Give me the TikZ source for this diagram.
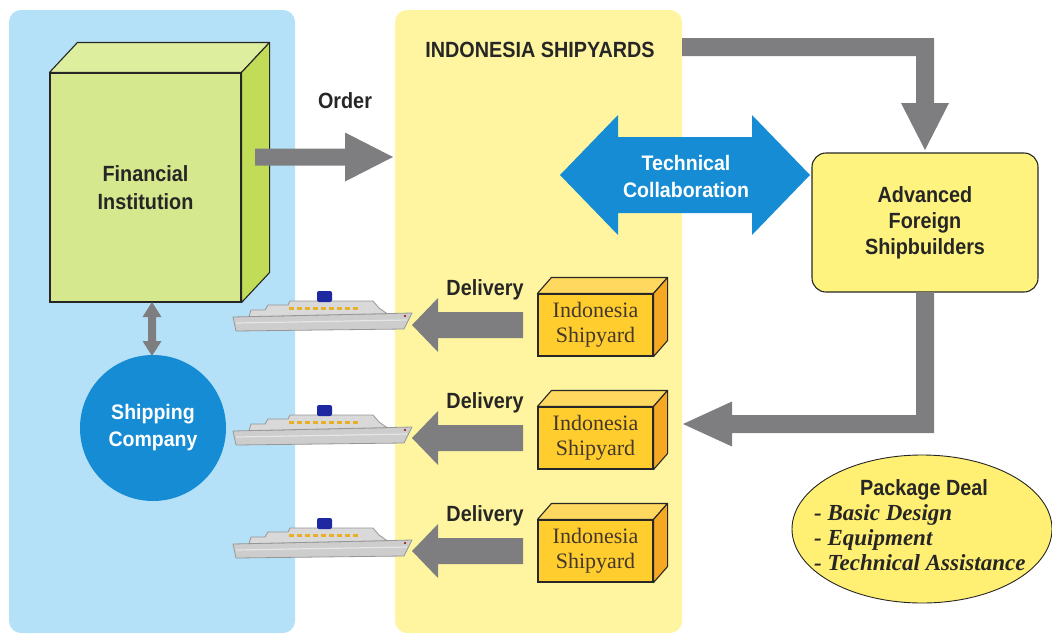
\documentclass[tikz,border=0pt]{standalone}
\usepackage{fontspec}
\setmainfont{Liberation Serif}
\newfontfamily\lblfont[FakeStretch=0.9]{Liberation Sans}
\newfontfamily\whitefont[FakeStretch=0.93]{Liberation Sans}
\usetikzlibrary{calc,shapes.geometric}

\definecolor{panelblue}{RGB}{181,225,248}
\definecolor{panelyellow}{RGB}{255,245,160}
\definecolor{arrowgray}{RGB}{126,126,128}
\definecolor{brandblue}{RGB}{22,140,212}
\definecolor{finfront}{RGB}{213,232,142}
\definecolor{fintop}{RGB}{221,238,158}
\definecolor{finside}{RGB}{193,221,88}
\definecolor{yardfront}{RGB}{255,205,45}
\definecolor{yardtop}{RGB}{255,216,95}
\definecolor{yardside}{RGB}{246,168,35}
\definecolor{advfill}{RGB}{255,243,128}
\definecolor{dealfill}{RGB}{255,239,115}
\definecolor{inkdark}{RGB}{38,38,38}
\definecolor{hullgray}{RGB}{205,205,205}
\definecolor{hullline}{RGB}{150,150,150}
\definecolor{funnelblue}{RGB}{30,40,160}
\definecolor{windowgold}{RGB}{232,176,40}

% horizontal block arrow: [style]{tail}{tip}{half shaft}{half head}{signed head length}
\newcommand\hblockarrow[6][]{%
  \fill[#1] ($(#2)+(0,-#4)$) -- ($(#3)+(#6,-#4)$) -- ($(#3)+(#6,-#5)$) -- (#3)
    -- ($(#3)+(#6,#5)$) -- ($(#3)+(#6,#4)$) -- ($(#2)+(0,#4)$) -- cycle;}

% a 3D box: front face node, depth dx/dy, top colour, side colour
\newcommand\boxdepth[5]{%
  \filldraw[fill=#4, draw=inkdark, line width=1.1, line join=round]
    (#1.north west) -- ++(#2,#3) -- ($(#1.north east)+(#2,#3)$) -- (#1.north east) -- cycle;
  \filldraw[fill=#5, draw=inkdark, line width=1.1, line join=round]
    (#1.north east) -- ++(#2,#3) -- ($(#1.south east)+(#2,#3)$) -- (#1.south east) -- cycle;}

\tikzset{
  panel/.style={rounded corners=12, inner sep=0},
  lbl/.style={font=\lblfont\bfseries\fontsize{22}{28}\selectfont, text=inkdark, inner sep=0},
  wlbl/.style={font=\whitefont\bfseries\fontsize{21}{27}\selectfont, text=white, inner sep=0, align=center},
  yardbox/.style={fill=yardfront, draw=inkdark, line width=1.1, minimum width=115, minimum height=62,
    inner sep=0, align=center, font=\fontsize{22}{25}\selectfont, text=inkdark!80!brown},
  deal/.style={font=\bfseries\itshape\fontsize{23}{25}\selectfont, text=inkdark, inner sep=0, anchor=base west},
  liner/.pic={
    \filldraw[fill=hullgray, draw=hullline, line width=0.8, line join=round]
      (0,4) -- (179,0) -- (171,16) -- (3,18) -- cycle;
    \draw[white!80!gray, line width=1.2] (3,10) -- (174,7);
    \filldraw[fill=hullgray!75!white, draw=hullline, line width=0.8, line join=round]
      (16,3.6) -- (18,-3) -- (32,-3) -- (35,-8) -- (55,-8) -- (57,-12) -- (140,-12)
      -- (146,-5) -- (154,0.6) -- cycle;
    \draw[windowgold, line width=2.4, dash pattern=on 5 off 3] (56,-4.5) -- (128,-4.5);
    \fill[funnelblue, rounded corners=2] (84,-22) rectangle (99,-11);
    \fill[red!60!black] (172,3) circle (1.2);
  }
}

\begin{document}
\begin{tikzpicture}[x=1pt, y=-1pt]
\useasboundingbox (0,0) rectangle (1052,635);

% background panels
\node[panel, fill=panelblue, minimum width=286, minimum height=623] (bank) at (152,321.5) {};
\node[panel, fill=panelyellow, minimum width=287, minimum height=623] (yard) at (538.5,321.5) {};

% financial institution block
\node[fill=finfront, draw=inkdark, line width=1.1, minimum width=191, minimum height=229,
  inner sep=0, align=center, font=\lblfont\bfseries\fontsize{22}{28}\selectfont, text=inkdark]
  (fin) at (145.5,187.5) {Financial\\Institution};
\boxdepth{fin}{28}{-30}{fintop}{finside}

% shipping company
\node[circle, fill=brandblue, minimum size=146, inner sep=0, wlbl] (shipco) at (153,428) {Shipping\\Company};

% link between bank and shipping company
\coordinate (linkA) at (152,302);
\coordinate (linkB) at (152,356);
\fill[arrowgray] (linkA) -- ($(linkA)+(9.5,15)$) -- ($(linkA)+(4,15)$) -- ($(linkB)+(4,-15)$)
  -- ($(linkB)+(9.5,-15)$) -- (linkB) -- ($(linkB)+(-9.5,-15)$) -- ($(linkB)+(-4,-15)$)
  -- ($(linkA)+(-4,15)$) -- ($(linkA)+(-9.5,15)$) -- cycle;

% delivered ships
\pic at (233,313) {liner};
\pic at (233,427) {liner};
\pic at (233,540) {liner};

% order
\coordinate (orderS) at (255,157);
\coordinate (orderT) at (393,157);
\hblockarrow[arrowgray]{orderS}{orderT}{8.5}{24.5}{-48}
\node[lbl, anchor=base] (order) at (345,108) {Order};

% title of the shipyard group
\node[lbl, anchor=base] (title) at (540,57) {INDONESIA SHIPYARDS};

% advanced foreign shipbuilders
\node[fill=advfill, draw=inkdark, line width=1.1, rounded corners=14, minimum width=226,
  minimum height=139, inner sep=0, align=center,
  font=\lblfont\bfseries\fontsize{22}{26}\selectfont, text=inkdark]
  (adv) at (925,222.5) {Advanced\\Foreign\\Shipbuilders};

% order passed on to the foreign builders
\coordinate (topS) at (682,47);
\coordinate (topT) at (925,150);
\coordinate (topC) at (topT |- topS);
\fill[arrowgray] ($(topS)+(0,-9)$) -- ($(topC)+(9,-9)$) -- ($(topT)+(9,-47)$) -- ($(topT)+(24,-47)$)
  -- (topT) -- ($(topT)+(-24,-47)$) -- ($(topT)+(-9,-47)$) -- ($(topC)+(-9,9)$) -- ($(topS)+(0,9)$) -- cycle;

% technical collaboration
\coordinate (techL) at (560,175);
\coordinate (techR) at (810,175);
\fill[brandblue] (techL) -- ($(techL)+(58,-60)$) -- ($(techL)+(58,-38)$) -- ($(techR)+(-58,-38)$)
  -- ($(techR)+(-58,-60)$) -- (techR) -- ($(techR)+(-58,60)$) -- ($(techR)+(-58,38)$)
  -- ($(techL)+(58,38)$) -- ($(techL)+(58,60)$) -- cycle;
\node[wlbl] (tech) at (686,176) {Technical\\Collaboration};

% package deal returned to the shipyards
\coordinate (backS) at (925,292);
\coordinate (backC) at (925,424);
\coordinate (backT) at (683,424);
\fill[arrowgray] ($(backS)+(-9,0)$) -- ($(backC)+(-9,-9)$) -- ($(backT)+(49,-9)$) -- ($(backT)+(49,-22.5)$)
  -- (backT) -- ($(backT)+(49,22.5)$) -- ($(backT)+(49,9)$) -- ($(backC)+(9,9)$) -- ($(backS)+(9,0)$) -- cycle;

% shipyards and deliveries
\foreach \i/\y in {1/325, 2/438, 3/551} {
  \node[yardbox] (sy\i) at (595.5,\y) {Indonesia\\Shipyard};
  \boxdepth{sy\i}{14}{-16}{yardtop}{yardside}
  \coordinate (delS\i) at (523,\y);
  \coordinate (delT\i) at (412,\y);
  \hblockarrow[arrowgray]{delS\i}{delT\i}{13}{27}{26}
  \node[lbl, anchor=base] (del\i) at (485,\y-30) {Delivery};
}

% package deal
\node[ellipse, fill=dealfill, draw=inkdark, line width=0.9, minimum width=260, minimum height=148, inner sep=0] (pkg) at (922,529) {};
\node[lbl, anchor=base] (pkghead) at (924,495) {Package Deal};
\node[deal] (pkg1) at (814,520) {- Basic Design};
\node[deal] (pkg2) at (814,545) {- Equipment};
\node[deal] (pkg3) at (814,570) {- Technical Assistance};
\end{tikzpicture}
\end{document}
